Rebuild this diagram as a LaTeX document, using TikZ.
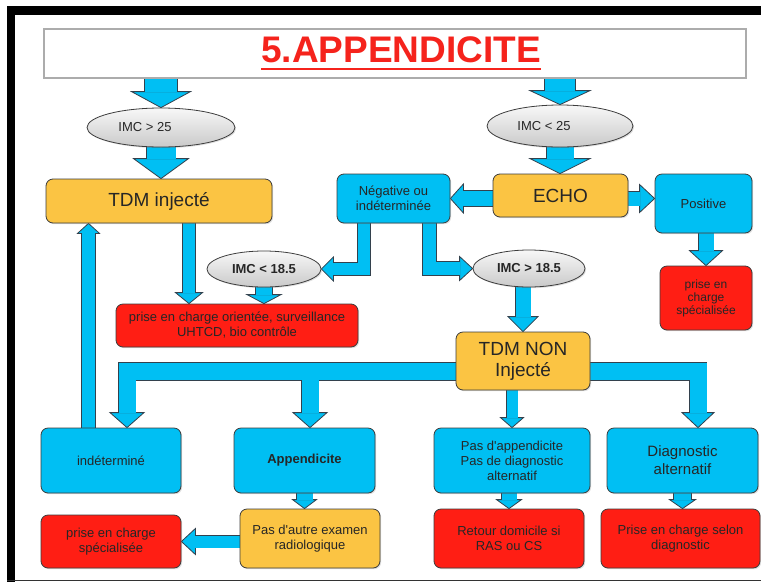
\documentclass[tikz,border=0pt]{standalone}
\usepackage{fontspec}
\setmainfont{Liberation Sans}[Ligatures=TeXOff]
\usetikzlibrary{shapes.geometric,backgrounds,shadows}

\definecolor{cyanA}{HTML}{00BFF3}
\definecolor{orangeA}{HTML}{FBC443}
\definecolor{redA}{HTML}{FF1E14}
\definecolor{titlered}{HTML}{F5231C}
\definecolor{edgecol}{HTML}{3C3C3C}
\definecolor{arrowcol}{HTML}{33414D}

\newsavebox{\ulbox}
\newcommand{\redline}[1]{\sbox{\ulbox}{#1}\usebox{\ulbox}\llap{\rule[-7.5pt]{\wd\ulbox}{2.2pt}}}

\tikzset{
  box/.style={draw=edgecol, line width=0.8pt, rounded corners=7pt, align=center, inner sep=2pt,
    text=black!85, font=\fontsize{13}{15}\selectfont,
    drop shadow={opacity=0.25, shadow xshift=1.2pt, shadow yshift=-1.2pt}},
  bluebox/.style={box, fill=cyanA},
  orangebox/.style={box, fill=orangeA},
  redbox/.style={box, fill=redA},
  bigtext/.style={font=\fontsize{19}{21}\selectfont},
  imc/.style={ellipse, draw=edgecol, line width=0.8pt, top color=gray!6, bottom color=gray!42,
    inner sep=1pt, text=black!85, font=\fontsize{13}{15}\selectfont,
    drop shadow={opacity=0.25, shadow xshift=1.2pt, shadow yshift=-1.2pt}},
  shaft/.style={draw=cyanA, line width=#1pt, line cap=butt, line join=miter,
    preaction={draw=arrowcol, line width=#1pt+1.6pt}},
  headst/.style={fill=cyanA, draw=arrowcol, line width=0.8pt, line join=miter},
  pics/hd/.style 2 args={code={\draw[headst] (-#1,-#2) -- (#1,-#2) -- (0,0) -- cycle;}},
  pics/hu/.style 2 args={code={\draw[headst] (-#1,#2) -- (#1,#2) -- (0,0) -- cycle;}},
  pics/hl/.style 2 args={code={\draw[headst] (#2,-#1) -- (#2,#1) -- (0,0) -- cycle;}},
  pics/hr/.style 2 args={code={\draw[headst] (-#2,-#1) -- (-#2,#1) -- (0,0) -- cycle;}}
}

\begin{document}
\begin{tikzpicture}[x=1pt,y=-1pt]
    \useasboundingbox (0,0) rectangle (761,582);

    % title
    \node[draw=gray!65, line width=1.3pt, fill=white, minimum width=702pt, minimum height=49pt, inner sep=0pt,
      text=titlered, font=\fontsize{37}{40}\bfseries\selectfont,
      drop shadow={opacity=0.2, shadow xshift=1pt, shadow yshift=-1pt}] (title) at (395,53.5) {\hspace*{12pt}\redline{5.APPENDICITE}};

    % IMC
    \node[imc, minimum width=148pt, minimum height=39pt] (imcA) at (161,127.5) {IMC > 25\hspace*{32pt}};
    \node[imc, minimum width=146pt, minimum height=42pt] (imcB) at (560,126) {IMC < 25\hspace*{32pt}};
    \node[imc, minimum width=114pt, minimum height=36pt, font=\fontsize{13}{15}\bfseries\selectfont] (imcC) at (264,269) {IMC < 18.5};
    \node[imc, minimum width=112pt, minimum height=37pt, font=\fontsize{13}{15}\bfseries\selectfont] (imcD) at (529,268.5) {IMC > 18.5};

    % row 1
    \node[orangebox, bigtext, minimum width=226pt, minimum height=44pt] (tdmi) at (159,201) {TDM injecté};
    \node[bluebox, minimum width=113pt, minimum height=49pt] (neg) at (393.5,198.5) {Négative ou\\indéterminée};
    \node[orangebox, bigtext, minimum width=135pt, minimum height=43pt] (echo) at (560.5,195.5) {ECHO};
    \node[bluebox, minimum width=97pt, minimum height=59pt] (pos) at (703.5,203.5) {Positive};

    % row 2
    \node[redbox, minimum width=242pt, minimum height=43pt] (redA) at (237,325.5) {prise en charge orientée, surveillance\\UHTCD, bio contrôle};
    \node[redbox, minimum width=92pt, minimum height=64pt, font=\fontsize{12}{13}\selectfont] (redB) at (706,298) {prise en\\charge\\spécialisée};
    \node[orangebox, bigtext, minimum width=134pt, minimum height=58pt] (tdmn) at (523,361) {TDM NON\\Injecté};

    % row 3
    \node[bluebox, minimum width=140pt, minimum height=65pt] (indet) at (111,460.5) {indéterminé};
    \node[bluebox, minimum width=141pt, minimum height=65pt, font=\fontsize{13}{15}\bfseries\selectfont] (app) at (304.5,460.5) {Appendicite};
    \node[bluebox, minimum width=156pt, minimum height=65pt] (pasapp) at (512,460.5) {Pas d'appendicite\\Pas de diagnostic\\alternatif};
    \node[bluebox, minimum width=151pt, minimum height=65pt, font=\fontsize{15}{18}\selectfont] (diag) at (682.5,460.5) {Diagnostic\\alternatif};

    % row 4
    \node[redbox, minimum width=140pt, minimum height=53pt] (redC) at (111,541.5) {prise en charge\\spécialisée};
    \node[orangebox, minimum width=140pt, minimum height=59pt] (pasaut) at (310,538.5) {Pas d'autre examen\\radiologique};
    \node[redbox, minimum width=150pt, minimum height=59pt] (retour) at (509,538.5) {Retour domicile si\\RAS ou CS};
    \node[redbox, minimum width=159pt, minimum height=59pt] (prise) at (680.5,538.5) {Prise en charge selon\\diagnostic};

    % points
    \coordinate (tipB) at (tdmi.north -| imcA);
    \coordinate (tipD) at (echo.north -| imcB);
    \coordinate (tipF) at (pos.west |- neg.east);
    \coordinate (tdmo) at ([xshift=30pt]tdmi.center);
    \coordinate (tipJ) at (tdmo |- redA.north);
    \coordinate (tipI) at (imcC |- redA.north);
    \coordinate (upst) at ([xshift=-22.5pt]indet.center);
    \coordinate (tipK) at (upst |- tdmi.south);
    \coordinate (negl) at ([xshift=-29.5pt]neg.center);
    \coordinate (negr) at ([xshift=36pt]neg.center);
    \coordinate (bar) at ([yshift=-10.5pt]tdmn.center);
    \coordinate (bl) at ([xshift=16pt]indet.north);
    \coordinate (bm) at ([xshift=5.5pt]app.north);
    \coordinate (br) at ([xshift=15.5pt]diag.north);
    \coordinate (tipQ) at (app |- pasaut.north);
    \coordinate (tipS) at (diag |- prise.north);

    \begin{pgfonlayer}{background}
    % frame
    \fill[black] (7,6) rectangle (761,15);
    \fill[black] (7,6) rectangle (15,582);
    \draw[black!80, line width=1.2pt] (7,580.5) -- (761,580.5);

    % heads
    \pic at (imcA.north) {hd={29.5}{16}};
    \pic at (tipB) {hd={27.5}{20}};
    \pic at (imcB.north) {hd={30}{14}};
    \pic at (tipD) {hd={30}{15}};
    \pic at (neg.east) {hl={14.5}{13}};
    \pic at (tipF) {hr={14}{15}};
    \pic at (redB.north) {hd={16.5}{15}};
    \pic at (imcC.east) {hl={12}{12}};
    \pic at (tipI) {hd={17}{9}};
    \pic at (tipJ) {hd={13.5}{11}};
    \pic at (tipK) {hu={11}{10}};
    \pic at (imcD.west) {hr={12}{13}};
    \pic at (tdmn.north) {hd={15}{15}};
    \pic at (bl) {hd={17}{15}};
    \pic at (bm) {hd={17}{15}};
    \pic at (br) {hd={16}{15}};
    \pic at (pasapp.north) {hd={11.5}{10}};
    \pic at (tipQ) {hd={12}{9}};
    \pic at (retour.north) {hd={12.5}{9}};
    \pic at (tipS) {hd={13}{9}};
    \pic at (redC.east) {hl={13}{14}};

    % shafts
    \draw[shaft=32] (title.south -| imcA) -- ([yshift=15.5pt]imcA.north);
    \draw[shaft=29] (imcA) -- ([yshift=19.5pt]tipB);
    \draw[shaft=30] (title.south -| imcB) -- ([yshift=13.5pt]imcB.north);
    \draw[shaft=27] (imcB) -- ([yshift=14.5pt]tipD);
    \draw[shaft=15] (echo |- neg.east) -- ([xshift=12.5pt]neg.east);
    \draw[shaft=14] (echo |- neg.east) -- ([xshift=-14.5pt]tipF);
    \draw[shaft=15] (redB |- pos) -- ([yshift=14.5pt]redB.north);
    \draw[shaft=12] (negl) |- ([xshift=11.5pt]imcC.east);
    \draw[shaft=16] (imcC) -- ([yshift=8.5pt]tipI);
    \draw[shaft=12] (tdmo) -- ([yshift=10.5pt]tipJ);
    \draw[shaft=13] (upst) -- ([yshift=-9.5pt]tipK);
    \draw[shaft=13] (negr) |- ([xshift=-12.5pt]imcD.west);
    \draw[shaft=15] (tdmn.north |- imcD) -- ([yshift=14.5pt]tdmn.north);
    \draw[shaft=17] (bar) -| ([yshift=14.5pt]bl) (bar -| bm) -- ([yshift=14.5pt]bm) (bar) -| ([yshift=14.5pt]br);
    \draw[shaft=11] (pasapp.north |- tdmn) -- ([yshift=9.5pt]pasapp.north);
    \draw[shaft=16] (app) -- ([yshift=8.5pt]tipQ);
    \draw[shaft=15] (retour.north |- pasapp) -- ([yshift=8.5pt]retour.north);
    \draw[shaft=17] (diag) -- ([yshift=8.5pt]tipS);
    \draw[shaft=12] (pasaut |- redC) -- ([xshift=13.5pt]redC.east);
    \end{pgfonlayer}
\end{tikzpicture}
\end{document}
